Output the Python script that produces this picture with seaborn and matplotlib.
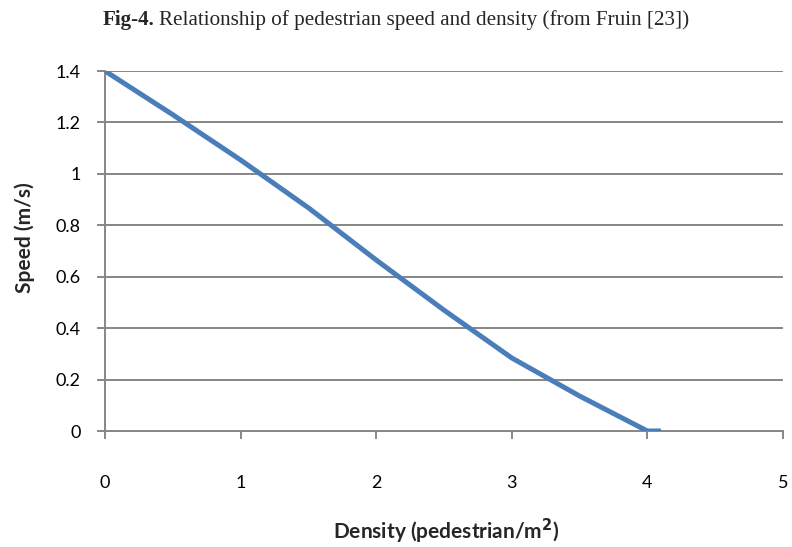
import matplotlib
matplotlib.use("Agg")
import matplotlib.pyplot as plt
import seaborn as sns
import pandas as pd

density = [0.0, 0.5, 1.0, 1.5, 2.0, 2.5, 3.0, 3.5, 4.0, 4.1]
speed = [1.4, 1.23, 1.054, 0.868, 0.665, 0.47, 0.284, 0.136, 0.0, 0.0]
x_ticks = [0, 1, 2, 3, 4, 5]
y_ticks = [0, 0.2, 0.4, 0.6, 0.8, 1.0, 1.2, 1.4]
y_tick_labels = ["0", "0.2", "0.4", "0.6", "0.8", "1", "1.2", "1.4"]

sns.set_style("white")
plt.rcParams['font.family'] = ['Lato', 'DejaVu Sans']

df = pd.DataFrame({"Density": density, "Speed": speed})

W, H = 792, 547
fig = plt.figure(figsize=(W / 100, H / 100), dpi=100)
ax = fig.add_axes([105 / W, 1 - 431 / H, (783 - 105) / W, (431 - 71) / H])

grid_color = "#868686"
for yv in y_ticks[1:]:
    ax.axhline(yv, color=grid_color, lw=1.4, zorder=1)

sns.lineplot(data=df, x="Density", y="Speed", ax=ax, color="#4A7EBB",
             lw=3.6, sort=False, zorder=3, solid_capstyle="butt",
             solid_joinstyle="round")

ax.set_xlim(0, 5)
ax.set_ylim(0, 1.4)
ax.set_xticks(x_ticks)
ax.set_xticklabels([str(v) for v in x_ticks])
ax.set_yticks(y_ticks)
ax.set_yticklabels(y_tick_labels)

for s in ["top", "right"]:
    ax.spines[s].set_visible(False)
for s in ["left", "bottom"]:
    ax.spines[s].set_color(grid_color)
    ax.spines[s].set_linewidth(1.4)

ax.tick_params(axis="x", which="both", direction="out", length=5.5, width=1.4,
               color=grid_color, pad=26, labelsize=13, labelcolor="black", bottom=True)
ax.tick_params(axis="y", which="both", direction="out", length=5.5, width=1.4,
               color=grid_color, pad=12, labelsize=13, labelcolor="black", left=True)

ax.set_xlabel("Density (pedestrian/m$^{\\mathbf{2}}$)", fontsize=15, fontweight="bold",
              va="center", ha="center")
ax.xaxis.set_label_coords((446 - 105) / 678, -(531 - 431) / 360)
ax.set_ylabel("Speed (m/s)", fontsize=15, fontweight="bold", va="center", ha="center")
ax.yaxis.set_label_coords((25 - 105) / 678, (431 - 238) / 360)

ty = 1 - 20 / H
t1 = fig.text(103 / W, ty, "Fig-4.", fontsize=15.2, fontweight="bold",
              family=["Liberation Serif"], ha="left", va="center")
fig.canvas.draw()
bb = t1.get_window_extent()
fig.text(bb.x1 / W + 0.005, ty,
         "Relationship of pedestrian speed and density (from Fruin [23])",
         fontsize=15.2, family=["Liberation Serif"], ha="left", va="center")

fig.savefig("out.png", dpi=100)
